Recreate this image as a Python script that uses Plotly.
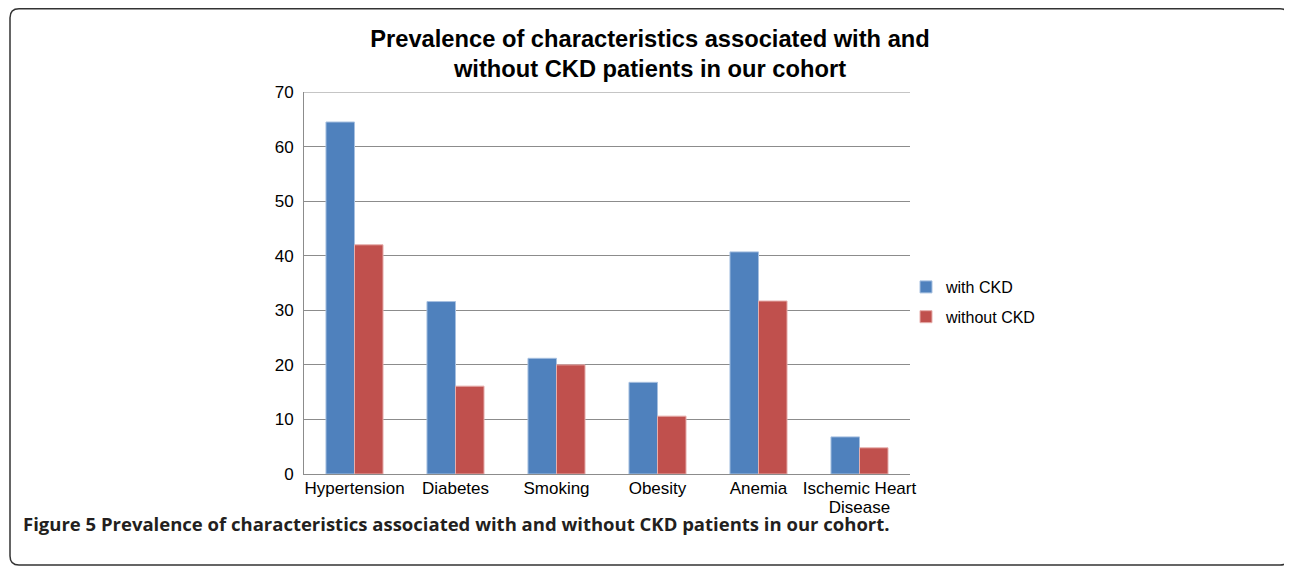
import plotly.graph_objects as go

categories = ["Hypertension", "Diabetes", "Smoking", "Obesity", "Anemia", "Ischemic Heart Disease"]
tick_labels = ["Hypertension", "Diabetes", "Smoking", "Obesity", "Anemia", ["Ischemic Heart", "Disease"]]
with_ckd = [64.5, 31.6, 21.2, 16.8, 40.7, 6.8]
without_ckd = [42.0, 16.1, 20.0, 10.6, 31.7, 4.8]
y_ticks = [0, 10, 20, 30, 40, 50, 60, 70]

OFF = 8  # page body margin
W, H = 1292 - OFF, 566 - OFF
L, R, T, B = 304 - OFF, 910 - OFF, 92 - OFF, 474 - OFF

def px(x):  # screenshot pixel -> paper
    return (x - OFF - L) / (R - L)

def py(y):
    return (B - (y - OFF)) / (B - T)

def styled(lbl):
    lines = lbl if isinstance(lbl, list) else [lbl]
    return "<br>".join(f"<span style='font-size:17px'>{s}</span>" for s in lines)

fig = go.Figure()
fig.add_trace(go.Bar(x=categories, y=with_ckd, name="with CKD", legendgroup="a",
                     marker=dict(color="#4F81BD", line=dict(color="#A7C0E0", width=1))))
fig.add_trace(go.Bar(x=categories, y=without_ckd, name="without CKD", legendgroup="b",
                     marker=dict(color="#C0504D", line=dict(color="#E6AEAC", width=1))))

fig.update_layout(
    width=W, height=H,
    margin=dict(l=L, r=W - R, t=T, b=H - B, autoexpand=False),
    paper_bgcolor="white", plot_bgcolor="white",
    barmode="group", bargap=0.435, bargroupgap=0,
    font=dict(family="Liberation Sans, Arial", size=16, color="black"),
    title=dict(text="<b>Prevalence of characteristics associated with and<br>without CKD patients in our cohort</b>",
               x=0.5, xanchor="center", y=1 - (46.5 - OFF) / H, yanchor="middle",
               font=dict(family="Liberation Sans, Arial", size=23.7, color="black")),
    legend=dict(x=px(906), y=py(302), xanchor="left", yanchor="middle",
                font=dict(size=16), bgcolor="rgba(0,0,0,0)", tracegroupgap=6),
    showlegend=True,
)
fig.update_yaxes(range=[0, 70], tickvals=y_ticks, showgrid=True, gridcolor="#8c8c8c", gridwidth=1,
                 showline=True, linecolor="#8c8c8c", linewidth=1, ticks="", ticklabelstandoff=6,
                 zeroline=False, tickfont=dict(size=17))
fig.update_xaxes(showline=True, linecolor="#8c8c8c", linewidth=1, tickfont=dict(size=14.5),
                 tickvals=categories, ticktext=[styled(t) for t in tick_labels],
                 ticks="", showgrid=False, ticklabelstandoff=2)

# top gridline at 70
fig.add_shape(type="line", xref="paper", yref="y", x0=0, x1=1, y0=70, y1=70,
              line=dict(color="#8c8c8c", width=1))

# caption
fig.add_annotation(text="<b>Figure 5 Prevalence of characteristics associated with and without CKD patients in our cohort.</b>",
                   xref="paper", yref="paper", x=px(21), y=py(523), xanchor="left", yanchor="middle",
                   showarrow=False, font=dict(family="Open Sans", size=18.5, color="#231f20"))

# rounded border
x0, x1, y0, y1, r = 10, 1289, 8.8, 565, 9
path = (f"M {px(x0 + r)} {py(y0)} L {px(x1 - r)} {py(y0)} Q {px(x1)} {py(y0)} {px(x1)} {py(y0 + r)} "
        f"L {px(x1)} {py(y1 - r)} Q {px(x1)} {py(y1)} {px(x1 - r)} {py(y1)} "
        f"L {px(x0 + r)} {py(y1)} Q {px(x0)} {py(y1)} {px(x0)} {py(y1 - r)} "
        f"L {px(x0)} {py(y0 + r)} Q {px(x0)} {py(y0)} {px(x0 + r)} {py(y0)} Z")
fig.add_shape(type="path", path=path, xref="paper", yref="paper",
              line=dict(color="#333333", width=1.5), layer="above")

fig.write_html("out.html")
